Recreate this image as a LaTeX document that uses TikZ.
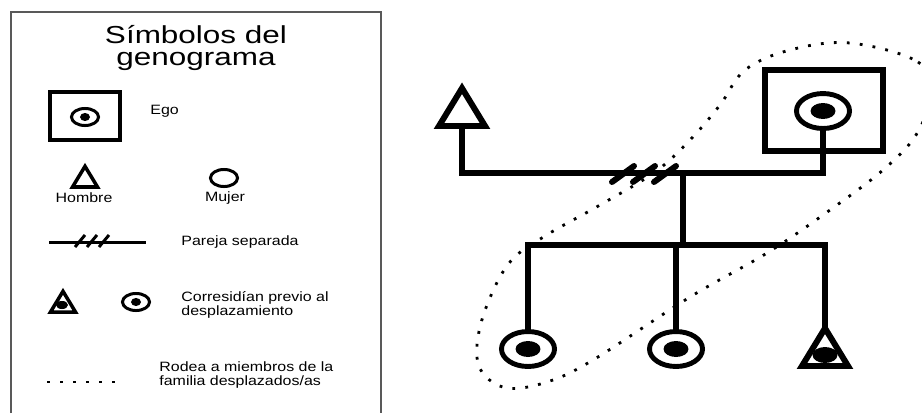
\documentclass[tikz,border=0pt]{standalone}
\usepackage{fontspec}
\setmainfont{Liberation Sans}
\usetikzlibrary{shapes.geometric,calc}

\begin{document}
\begin{tikzpicture}[x=0.02cm,y=-0.02cm]
	\tikzset{lazo/.style = {line width=3.4pt}}
	\tikzset{lazofino/.style = {line width=1.7pt}}
	\tikzset{mujer/.style = {shape=ellipse,draw,line width=2.8pt,minimum width=30.2pt,minimum height=19.9pt,inner sep=0pt}}
	\tikzset{mujerchica/.style = {shape=ellipse,draw,line width=1.7pt,minimum width=15.4pt,minimum height=9.7pt,inner sep=0pt}}
	\tikzset{punto/.style = {shape=ellipse,fill,minimum width=14.2pt,minimum height=9.1pt,inner sep=0pt}}
	\tikzset{puntochico/.style = {shape=ellipse,fill,minimum width=5.7pt,minimum height=4.6pt,inner sep=0pt}}
	\tikzset{hombre/.style = {shape=isosceles triangle,isosceles triangle stretches,shape border rotate=90,draw,line width=3.4pt,minimum width=26.2pt,minimum height=21.5pt,inner sep=0pt,outer sep=0pt,anchor=lower side}}
	\tikzset{hombrechico/.style = {hombre,line width=2pt,minimum width=14.2pt,minimum height=11.8pt}}
	\tikzset{desplazados/.style = {line width=1.6pt,dash pattern=on 1.6pt off 5.8pt}}
	\tikzset{rotulo/.style = {font=\fontsize{7.7pt}{8pt}\selectfont,xscale=1.18,inner sep=0pt,align=left}}
	\useasboundingbox (0,0) rectangle (922,413);

	% leyenda
	\draw[line width=0.8pt,black!65] (11,413) -- (11,12) -- (381,12) -- (381,413);
	\node[font=\fontsize{14pt}{12.8pt}\selectfont,xscale=1.28,align=center,inner sep=0pt] (titulo) at (196,48) {Símbolos del\\genograma};

	\node[draw,line width=2.3pt,minimum width=39.3pt,minimum height=27.3pt,inner sep=0pt] (egoley) at (85,116) {};
	\node[mujerchica] (egoleyc) at (85,117) {};
	\node[puntochico] at (egoleyc) {};
	\node[rotulo,anchor=west] (egotxt) at (150,111) {Ego};

	\node[hombrechico] (hombreley) at (85,187) {};
	\node[rotulo] (hombretxt) at (84,198) {Hombre};
	\node[mujerchica] (mujerley) at (224,178) {};
	\node[rotulo] (mujertxt) at (225,198) {Mujer};

	\coordinate (sepa) at (49,242);
	\coordinate (sepb) at (146,242);
	\draw[lazofino] (sepa) -- (sepb);
	\foreach \i in {0,1,2}
		\draw[lazofino] ($(sepa)+(26+12*\i,5)$) -- ++(10,-12);
	\node[rotulo,anchor=west] (parejatxt) at (181,242) {Pareja separada};

	\node[hombrechico] (coresa) at (63,312) {};
	\node[puntochico,minimum width=6.8pt] at (62,305) {};
	\node[mujerchica] (coresb) at (136,302) {};
	\node[puntochico] at (coresb) {};
	\node[rotulo,anchor=west] (corestxt) at (181,305) {Corresidían previo al\\desplazamiento};

	\draw[desplazados] (47,382) -- (118,382);
	\node[rotulo,anchor=west] (rodeatxt) at (159,375) {Rodea a miembros de la\\familia desplazados/as};

	% personas
	\node[hombre] (padre) at (462,126) {};
	\node[draw,line width=3.4pt,minimum width=67.1pt,minimum height=46.1pt,inner sep=0pt] (egocuadro) at (824,110.5) {};
	\node[mujer] (ego) at (823,111) {};
	\node[punto] at (ego) {};
	\node[mujer] (hija1) at (528,349) {};
	\node[punto] at (hija1) {};
	\node[mujer] (hija2) at (676,349) {};
	\node[punto] at (hija2) {};
	\node[hombre] (hijo3) at (825,366) {};
	\node[punto] at (825,355) {};

	% vinculos
	\coordinate (pareja) at (683,173);
	\coordinate (hijos) at (683,245);
	\coordinate (corte) at (623,174);
	\draw[lazo] (padre.lower side) |- (pareja) -| (ego.south);
	\draw[lazo] (pareja) -- (hijos);
	\draw[lazo] (hija1.north) |- (hijos) -| (hijo3.apex);
	\draw[lazo] (hijos -| hija2.north) -- (hija2.north);
	\foreach \i in {0,1,2}
		\draw[lazo,line cap=round] ($(corte)+(21*\i,0)+(-11,8)$) -- ++(22,-16);

	% desplazados
	\begin{scope}
		\clip (0,0) rectangle (922,413);
		\draw[desplazados] plot[smooth cycle,tension=0.6] coordinates {(850,43) (918,62) (930,95) (916,135) (883,170) (830,210) (767,253) (690,297) (593,360) (547,382) (507,388) (482,372) (477,345) (487,305) (510,262) (545,236) (600,205) (655,172) (690,140) (720,105) (745,70) (790,50)};
	\end{scope}
\end{tikzpicture}
\end{document}
